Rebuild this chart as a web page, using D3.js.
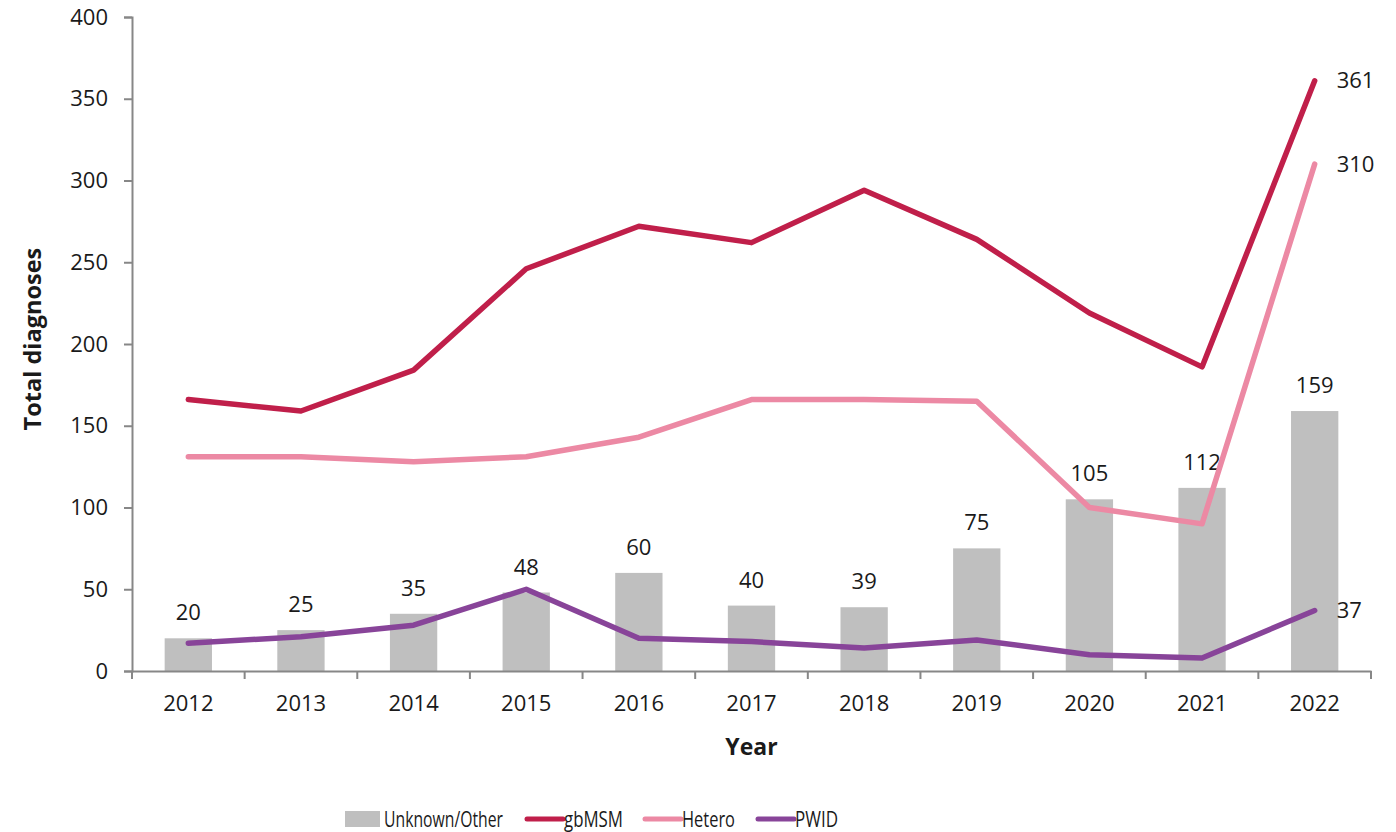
<!DOCTYPE html>
<html>
<head>
<meta charset="utf-8">
<script src="https://cdn.jsdelivr.net/npm/d3@7"></script>
<style>
  body { margin: 0; background: #fff; }
  svg text { font-family: "Open Sans", "Noto Sans", sans-serif; fill: #1a1a1a; }
</style>
</head>
<body>
<div id="chart"></div>
<script>
const years = ["2012", "2013", "2014", "2015", "2016", "2017", "2018", "2019", "2020", "2021", "2022"];
const unknownOther = [20, 25, 35, 48, 60, 40, 39, 75, 105, 112, 159];
const gbMSM = [166, 159, 184, 246, 272, 262, 294, 264, 219, 186, 361];
const hetero = [131, 131, 128, 131, 143, 166, 166, 165, 100, 90, 310];
const pwid = [17, 21, 28, 50, 20, 18, 14, 19, 10, 8, 37];
const yTicks = [0, 50, 100, 150, 200, 250, 300, 350, 400];

const lineSeries = [
    { name: "gbMSM", values: gbMSM, color: "#c01f4a" },
    { name: "Hetero", values: hetero, color: "#ec89a4" },
    { name: "PWID", values: pwid, color: "#884499" }
];
const barColor = "#bfbfbf";
const axisColor = "#878787";

const width = 1396, height = 832;
const margin = { left: 132, right: 25, top: 17, bottom: 161 };

const svg = d3.select("#chart").append("svg")
    .attr("width", width)
    .attr("height", height);

const x = d3.scaleBand()
    .domain(years)
    .range([margin.left, width - margin.right]);

const y = d3.scaleLinear()
    .domain([0, 400])
    .range([height - margin.bottom, margin.top]);

// bars
svg.append("g")
    .selectAll("rect")
    .data(unknownOther)
    .enter().append("rect")
    .attr("x", (d, i) => x(years[i]) + x.bandwidth() * 0.29)
    .attr("width", x.bandwidth() * 0.42)
    .attr("y", d => y(d))
    .attr("height", d => y(0) - y(d))
    .attr("fill", barColor);

// bar labels
svg.append("g")
    .selectAll("text")
    .data(unknownOther)
    .enter().append("text")
    .attr("x", (d, i) => x(years[i]) + x.bandwidth() / 2)
    .attr("y", d => y(d) - 18)
    .attr("text-anchor", "middle")
    .style("font-size", "22px")
    .text(d => d);

// y axis
const yAxis = svg.append("g")
    .attr("transform", `translate(${margin.left},0)`)
    .call(d3.axisLeft(y).tickValues(yTicks).tickSize(8).tickPadding(16));
yAxis.selectAll("text").style("font-size", "22px");

// x axis with ticks at band boundaries
const xAxis = svg.append("g")
    .attr("transform", `translate(0,${y(0)})`)
    .call(d3.axisBottom(x).tickSize(0).tickPadding(24));
xAxis.selectAll("text").style("font-size", "22px");
xAxis.selectAll(".tick-b")
    .data(d3.range(years.length + 1))
    .enter().append("line")
    .attr("x1", i => margin.left + i * x.step())
    .attr("x2", i => margin.left + i * x.step())
    .attr("y1", 0)
    .attr("y2", 8);

svg.selectAll(".domain").attr("stroke", axisColor).attr("stroke-width", 2);
svg.selectAll(".tick line").attr("stroke", axisColor).attr("stroke-width", 2);
xAxis.selectAll("line").attr("stroke", axisColor).attr("stroke-width", 2);

// lines
const line = d3.line()
    .x((d, i) => x(years[i]) + x.bandwidth() / 2)
    .y(d => y(d));

lineSeries.forEach(s => {
    svg.append("path")
        .datum(s.values)
        .attr("d", line)
        .attr("fill", "none")
        .attr("stroke", s.color)
        .attr("stroke-width", 5.5)
        .attr("stroke-linejoin", "round")
        .attr("stroke-linecap", "round");

    const last = s.values.length - 1;
    svg.append("text")
        .attr("x", x(years[last]) + x.bandwidth() / 2 + 22)
        .attr("y", y(s.values[last]))
        .attr("dy", "0.35em")
        .style("font-size", "22px")
        .text(s.values[last]);
});

// axis titles
svg.append("text")
    .attr("x", margin.left + (width - margin.right - margin.left) / 2)
    .attr("y", 755)
    .attr("text-anchor", "middle")
    .style("font-size", "23px")
    .style("font-weight", "bold")
    .text("Year");

svg.append("text")
    .attr("transform", `translate(41,${y(203)}) rotate(-90)`)
    .attr("text-anchor", "middle")
    .style("font-size", "23.5px")
    .style("font-weight", "bold")
    .text("Total diagnoses");

// legend (text squeezed to the narrow widths of the original)
const legend = svg.append("g").attr("transform", "translate(0,819)");
legend.append("rect")
    .attr("x", 345).attr("y", -8)
    .attr("width", 35).attr("height", 16)
    .attr("fill", barColor);
legend.append("text")
    .attr("x", 384).attr("dy", "0.35em")
    .attr("textLength", 119)
    .attr("lengthAdjust", "spacingAndGlyphs")
    .style("font-size", "22px")
    .text("Unknown/Other");

const legendPos = [527, 645, 758];
const legendLen = [59, 53, 43];
lineSeries.forEach((s, i) => {
    legend.append("line")
        .attr("x1", legendPos[i]).attr("x2", legendPos[i] + 36)
        .attr("stroke", s.color)
        .attr("stroke-width", 5)
        .attr("stroke-linecap", "round");
    legend.append("text")
        .attr("x", legendPos[i] + 37).attr("dy", "0.35em")
        .attr("textLength", legendLen[i])
        .attr("lengthAdjust", "spacingAndGlyphs")
        .style("font-size", "22px")
        .text(s.name);
});
</script>
</body>
</html>
